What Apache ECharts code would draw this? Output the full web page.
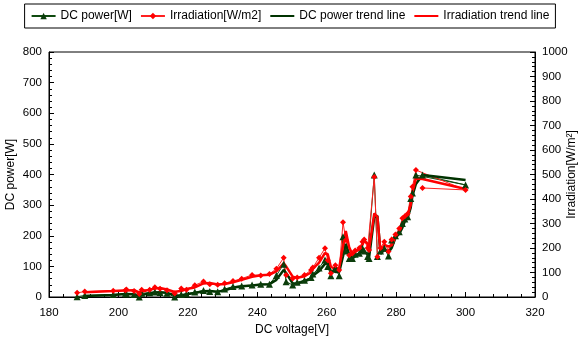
<!DOCTYPE html>
<html>
<head>
<meta charset="utf-8">
<script src="https://cdn.jsdelivr.net/npm/echarts@6/dist/echarts.min.js"></script>
<style>html,body{margin:0;padding:0;background:#fff}#c{width:580px;height:346px}</style>
</head>
<body>
<div id="c"></div>
<script>
// DC voltage [V] in recording order
var voltage = [188.1,190.3,198.5,202.0,202.3,204.5,206.0,206.7,209.0,210.5,212.0,214.0,216.2,218.1,219.6,222.0,224.5,226.3,228.6,230.6,233.0,235.5,238.5,241.0,243.5,245.5,247.6,248.3,250.2,251.5,253.6,255.5,256.0,257.8,259.5,260.3,261.2,262.5,263.6,264.7,265.5,266.5,267.4,268.2,269.4,270.3,270.8,271.8,272.2,273.7,274.6,275.5,276.6,277.8,278.7,279.8,280.9,281.8,282.5,283.3,284.2,284.7,285.7,300.0,287.6];
// DC power [W]
var dcPower = [1,5,8,12,10,8,0,12,14,16,15,12,0,8,10,16,21,18,17,26,34,36,39,42,42,70,107,50,39,48,55,64,75,95,121,100,69,95,69,197,150,126,126,140,143,159,150,132,126,398,132,150,159,134,186,200,213,240,255,262,322,340,398,366,398];
// Irradiation [W/m2]
var irradiation = [17,22,26,28,31,25,12,30,30,40,34,28,14,35,30,48,63,52,50,56,65,75,90,88,94,115,160,90,76,80,90,110,120,160,199,150,97,130,110,305,233,170,178,190,200,226,235,200,192,490,164,200,226,186,235,255,280,321,330,340,410,450,518,437,445];

var xTicks = {min:180, max:320, step:20};
var yLeftTicks = {min:0, max:800, step:100};
var yRightTicks = {min:0, max:1000, step:100};

// Excel-style 2-period moving average trendline (data ordered by x)
function movingAverage2(xs, ys){
  var idx = xs.map(function(_,i){return i;}).sort(function(a,b){return xs[a]-xs[b];});
  var out = [];
  for (var k=1;k<idx.length;k++){
    out.push([xs[idx[k]], (ys[idx[k-1]]+ys[idx[k]])/2]);
  }
  return out;
}
function pairs(xs, ys){ return xs.map(function(x,i){return [x, ys[i]];}); }

var FONT = 'Liberation Sans, Arial, sans-serif';
var chart = echarts.init(document.getElementById('c'), null, {renderer:'canvas'});
var axisCommon = {
  axisLine:{show:true, lineStyle:{color:'#000', width:1}},
  axisTick:{show:true, inside:true, length:5, lineStyle:{color:'#000'}},
  minorTick:{show:true, splitNumber:5, length:3, lineStyle:{color:'#000'}},
  splitLine:{show:false},
  nameMoveOverlap:false,
  axisLabel:{color:'#000', fontSize:11.5, fontFamily:FONT, formatter:function(v){return String(v);}},
  nameTextStyle:{color:'#000', fontSize:12, fontFamily:FONT}
};
chart.setOption({
  animation:false,
  backgroundColor:'#fff',
  textStyle:{fontFamily:FONT},
  legend:{
    top:4, left:'center',
    borderColor:'#000', borderWidth:1, padding:[6,6],
    itemWidth:24, itemHeight:8, itemGap:8,
    textStyle:{color:'#000', fontSize:12, fontFamily:FONT},
    data:[
      {name:'DC power[W]'},
      {name:'Irradiation[W/m2]'},
      {name:'DC power trend line', itemStyle:{color:'rgba(0,0,0,0)', borderWidth:0}},
      {name:'Irradiation trend line', itemStyle:{color:'rgba(0,0,0,0)', borderWidth:0}}
    ]
  },
  grid:{left:49, right:45, top:52, bottom:49, show:true, borderColor:'#000', borderWidth:1,
        outerBoundsMode:'none', containLabel:false},
  xAxis:Object.assign({}, axisCommon, {
    type:'value', min:xTicks.min, max:xTicks.max, interval:xTicks.step,
    name:'DC voltage[V]', nameLocation:'middle', nameGap:27,
    axisLabel:Object.assign({}, axisCommon.axisLabel, {margin:10})
  }),
  yAxis:[
    Object.assign({}, axisCommon, {
      type:'value', position:'left', min:yLeftTicks.min, max:yLeftTicks.max, interval:yLeftTicks.step,
      name:'DC power[W]', nameLocation:'middle', nameGap:32, nameRotate:90,
      axisLabel:Object.assign({}, axisCommon.axisLabel, {margin:7})
    }),
    Object.assign({}, axisCommon, {
      type:'value', position:'right', min:yRightTicks.min, max:yRightTicks.max, interval:yRightTicks.step,
      name:'Irradiation[W/m²]', nameLocation:'middle', nameGap:31, nameRotate:90,
      axisLabel:Object.assign({}, axisCommon.axisLabel, {margin:7})
    })
  ],
  series:[
    {name:'DC power[W]', type:'line', yAxisIndex:0, data:pairs(voltage, dcPower),
     symbol:'triangle', symbolSize:7, showAllSymbol:true,
     lineStyle:{color:'#0f4a0f', width:1}, itemStyle:{color:'#0b3d0b'}},
    {name:'Irradiation[W/m2]', type:'line', yAxisIndex:1, data:pairs(voltage, irradiation),
     symbol:'diamond', symbolSize:6, showAllSymbol:true,
     lineStyle:{color:'#ff2020', width:1}, itemStyle:{color:'#ff0000'}},
    {name:'DC power trend line', type:'line', yAxisIndex:0, data:movingAverage2(voltage, dcPower),
     symbol:'none', lineStyle:{color:'#003300', width:2.5}, itemStyle:{color:'#003300'}},
    {name:'Irradiation trend line', type:'line', yAxisIndex:1, data:movingAverage2(voltage, irradiation),
     symbol:'none', lineStyle:{color:'#ff0000', width:2.5}, itemStyle:{color:'#ff0000'}}
  ]
});
</script>
</body>
</html>
